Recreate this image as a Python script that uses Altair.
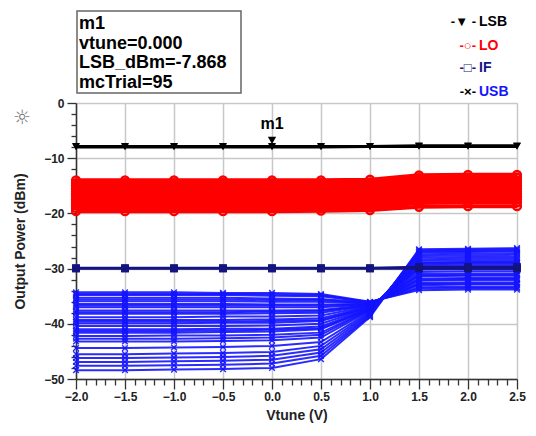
import altair as alt
import pandas as pd

# ---------------- data ----------------
vtune = [-2.0, -1.5, -1.0, -0.5, 0.0, 0.5, 1.0, 1.5, 2.0, 2.5]

lsb_traces = [
    [-7.87, -7.87, -7.87, -7.87, -7.868, -7.87, -7.87, -7.87, -7.87, -7.87],
    [-7.95, -7.95, -7.95, -7.95, -7.95, -7.95, -7.9, -7.75, -7.75, -7.75],
]

lo_traces = [
    [-14.0, -14.0, -14.0, -14.0, -14.0, -14.0, -13.9, -13.1, -13.0, -13.0],
    [-14.5, -14.5, -14.5, -14.5, -14.5, -14.5, -14.4, -13.6, -13.5, -13.5],
    [-15.0, -15.0, -15.0, -15.0, -15.0, -15.0, -14.9, -14.1, -14.0, -14.0],
    [-15.5, -15.5, -15.5, -15.5, -15.5, -15.5, -15.4, -14.6, -14.5, -14.5],
    [-16.0, -16.0, -16.0, -16.0, -16.0, -16.0, -15.9, -15.1, -15.0, -15.0],
    [-16.5, -16.5, -16.5, -16.5, -16.5, -16.5, -16.4, -15.6, -15.5, -15.5],
    [-17.0, -17.0, -17.0, -17.0, -17.0, -17.0, -16.9, -16.1, -16.0, -16.0],
    [-17.5, -17.5, -17.5, -17.5, -17.5, -17.5, -17.4, -16.6, -16.5, -16.5],
    [-18.0, -18.0, -18.0, -18.0, -18.0, -18.0, -17.9, -17.1, -17.0, -17.0],
    [-18.5, -18.5, -18.5, -18.5, -18.5, -18.5, -18.4, -17.6, -17.5, -17.5],
    [-19.0, -19.0, -19.0, -19.0, -19.0, -19.0, -18.9, -18.1, -18.0, -18.0],
    [-19.6, -19.6, -19.6, -19.6, -19.6, -19.5, -19.4, -18.8, -18.7, -18.7],
]

if_traces = [
    [-30.0, -30.0, -30.0, -30.0, -30.0, -30.0, -30.0, -30.0, -30.0, -30.0],
    [-29.9, -29.9, -29.9, -29.9, -29.9, -29.9, -29.9, -29.7, -29.7, -29.7],
]

usb_traces = [
    [-34.3, -34.3, -34.3, -34.4, -34.4, -34.6, -36.0, -33.9, -33.8, -33.8],
    [-34.6, -34.6, -34.6, -34.6, -34.7, -34.8, -36.1, -33.6, -33.5, -33.5],
    [-34.8, -34.8, -34.8, -34.8, -34.9, -35.0, -36.1, -33.4, -33.3, -33.3],
    [-35.3, -35.3, -35.3, -35.3, -35.4, -35.5, -36.2, -33.0, -32.9, -32.9],
    [-35.6, -35.6, -35.6, -35.6, -35.7, -35.7, -36.3, -32.8, -32.7, -32.7],
    [-35.9, -35.9, -35.9, -35.9, -36.0, -36.0, -36.3, -32.6, -32.5, -32.5],
    [-36.4, -36.4, -36.4, -36.4, -36.5, -36.5, -36.4, -32.2, -32.1, -32.1],
    [-36.7, -36.7, -36.7, -36.7, -36.7, -36.7, -36.5, -32.0, -31.9, -31.9],
    [-37.0, -37.0, -37.0, -37.0, -37.0, -37.0, -36.5, -31.8, -31.7, -31.7],
    [-37.6, -37.6, -37.6, -37.6, -37.6, -37.5, -36.6, -31.4, -31.3, -31.3],
    [-37.9, -37.9, -37.9, -37.9, -37.8, -37.7, -36.7, -31.2, -31.1, -31.1],
    [-38.2, -38.2, -38.2, -38.2, -38.1, -38.0, -36.7, -31.0, -30.9, -30.9],
    [-38.8, -38.8, -38.8, -38.7, -38.7, -38.5, -36.8, -30.6, -30.5, -30.5],
    [-39.3, -39.3, -39.3, -39.3, -39.2, -39.0, -36.9, -30.2, -30.1, -30.1],
    [-39.6, -39.6, -39.6, -39.6, -39.5, -39.3, -37.0, -30.0, -29.9, -29.9],
    [-39.9, -39.9, -39.9, -39.8, -39.8, -39.5, -37.0, -29.8, -29.7, -29.7],
    [-40.4, -40.4, -40.4, -40.4, -40.3, -40.0, -37.1, -29.5, -29.4, -29.4],
    [-41.0, -41.0, -41.0, -40.9, -40.9, -40.5, -37.2, -29.2, -29.1, -29.1],
    [-41.3, -41.3, -41.3, -41.2, -41.1, -40.8, -37.3, -29.0, -28.9, -28.9],
    [-41.6, -41.6, -41.6, -41.5, -41.4, -41.0, -37.3, -28.9, -28.8, -28.8],
    [-42.2, -42.2, -42.1, -42.1, -42.0, -41.6, -37.4, -28.6, -28.5, -28.5],
    [-42.7, -42.7, -42.7, -42.6, -42.5, -42.0, -37.5, -28.3, -28.2, -28.2],
    [-43.2, -43.2, -43.2, -43.1, -43.0, -42.5, -37.6, -28.0, -27.9, -27.9],
    [-44.4, -44.4, -44.3, -44.2, -44.0, -43.3, -37.8, -27.7, -27.6, -27.5],
    [-45.5, -45.5, -45.4, -45.3, -45.1, -44.0, -38.0, -27.4, -27.3, -27.2],
    [-46.2, -46.2, -46.1, -46.0, -45.8, -44.6, -38.2, -27.1, -27.0, -26.9],
    [-46.9, -46.9, -46.8, -46.7, -46.5, -45.2, -38.4, -26.9, -26.8, -26.7],
    [-47.6, -47.6, -47.5, -47.4, -47.2, -45.8, -38.6, -26.7, -26.6, -26.5],
    [-48.4, -48.4, -48.3, -48.2, -48.0, -46.4, -38.8, -26.5, -26.4, -26.3],
]

marker_x = [0.0]
marker_y = [-7.868]
marker_label = ["m1"]
marker_box_lines = ["m1", "vtune=0.000", "LSB_dBm=-7.868", "mcTrial=95"]

legend_symbols = ["-\u25bc - ", "-\u25cb-", "-\u25a1-", "-\u00d7-"]
legend_names = ["LSB", "LO", "IF", "USB"]

# axis tick positions: every 0.1 V (labels every 0.5 V), every 2 dB (labels every 10 dB)
x_tick_values = [round(-2.0 + 0.1 * i, 1) for i in range(46)]
y_tick_values = list(range(-50, 1, 2))

# ---------------- style ----------------
FONT = "Liberation Sans"
C_LSB = "#000000"
C_LO = "#ff0000"
C_IF = "#141480"
C_USB = "#1414ff"

rows = []
for name, traces in [("LSB", lsb_traces), ("LO", lo_traces), ("IF", if_traces), ("USB", usb_traces)]:
    for k, tr in enumerate(traces):
        for xv, yv in zip(vtune, tr):
            rows.append({"series": name, "trace": f"{name}{k}", "vtune": xv, "power": yv})
df = pd.DataFrame(rows)

xscale = alt.Scale(domain=[-2.0, 2.5], nice=False, zero=False, padding=0)
yscale = alt.Scale(domain=[-50, 0], nice=False, zero=False, padding=0)

X_MAJOR = "abs(datum.value * 2 - round(datum.value * 2)) < 0.01"
Y_MAJOR = "abs(datum.value % 10) < 0.01"

main_x_axis = alt.Axis(
    values=x_tick_values, title="Vtune (V)", grid=True,
    labelExpr=f"{X_MAJOR} ? format(datum.value, '.1f') : ''",
    gridColor="#c8c8c8", gridWidth=1.5,
    gridOpacity={"condition": {"test": X_MAJOR, "value": 1}, "value": 0},
    domainColor="#333333", domainWidth=1.5,
    tickColor="#333333", tickSize=10, tickWidth=1.3,
    tickDash={"condition": {"test": X_MAJOR, "value": [10, 0]}, "value": [6, 20]},
    labelFont=FONT, labelFontSize=12, labelFontWeight="bold", labelColor="#222222",
    labelPadding=2, labelOverlap=False, labelFlush=False, titleFont=FONT,
    titleFontSize=14, titleFontWeight="bold", titleColor="#222222", titlePadding=6,
)
main_y_axis = alt.Axis(
    values=y_tick_values, title="Output Power (dBm)", grid=True,
    labelExpr=f"{Y_MAJOR} ? format(datum.value, 'd') : ''",
    gridColor="#c8c8c8", gridWidth=1.5,
    gridOpacity={"condition": {"test": Y_MAJOR, "value": 1}, "value": 0},
    domainColor="#333333", domainWidth=1.5,
    tickColor="#333333", tickSize=9, tickWidth=1.3,
    tickDash={"condition": {"test": Y_MAJOR, "value": [9, 0]}, "value": [5, 20]},
    labelFont=FONT, labelFontSize=12, labelFontWeight="bold", labelColor="#222222",
    labelPadding=3, labelOverlap=False, labelFlush=False, titleFont=FONT,
    titleFontSize=14, titleFontWeight="bold", titleColor="#222222", titlePadding=16,
)

base = alt.Chart(df)


def enc(field_x="vtune", field_y="power", detail=True):
    d = dict(
        x=alt.X(f"{field_x}:Q", scale=xscale, axis=main_x_axis),
        y=alt.Y(f"{field_y}:Q", scale=yscale, axis=main_y_axis),
    )
    if detail:
        d["detail"] = "trace:N"
    return d


X_SHAPE = "M-1,-1L1,1M-1,1L1,-1"

usb_line = base.transform_filter(alt.datum.series == "USB").mark_line(
    color=C_USB, strokeWidth=2, opacity=0.9).encode(**enc())
usb_pts = base.transform_filter(alt.datum.series == "USB").mark_point(
    shape=X_SHAPE, color=C_USB, size=32, strokeWidth=1.4, filled=False, opacity=0.9).encode(**enc())

lo_line = base.transform_filter(alt.datum.series == "LO").mark_line(
    color=C_LO, strokeWidth=4).encode(**enc())
lo_pts = base.transform_filter(alt.datum.series == "LO").mark_point(
    shape="circle", color=C_LO, size=60, strokeWidth=2.5, filled=False, opacity=1).encode(**enc())

if_line = base.transform_filter(alt.datum.series == "IF").mark_line(
    color=C_IF, strokeWidth=2.5).encode(**enc())
if_pts = base.transform_filter(alt.datum.series == "IF").mark_point(
    shape="square", color=C_IF, size=60, filled=True, opacity=1).encode(**enc())

lsb_line = base.transform_filter(alt.datum.series == "LSB").mark_line(
    color=C_LSB, strokeWidth=3).encode(**enc())
lsb_pts = base.transform_filter(alt.datum.series == "LSB").mark_point(
    shape="triangle-down", color=C_LSB, size=60, filled=True, opacity=1).encode(**enc())

# marker m1
mdf = pd.DataFrame({"vtune": marker_x, "power": marker_y, "label": marker_label})
m_base = alt.Chart(mdf)
m_tri = m_base.mark_point(shape="triangle-down", color="#000000", filled=True, size=70,
                          opacity=1, yOffset=-6).encode(**enc(detail=False))
m_txt = m_base.mark_text(font=FONT, fontSize=16, fontWeight="bold", color="#000000",
                         dy=-22).encode(text="label:N", **enc(detail=False))

dummy = alt.Chart(pd.DataFrame({"a": [0]}))
box = dummy.mark_rect(fill="white", stroke="#666666", strokeWidth=1.5).encode(
    x=alt.value(1), x2=alt.value(165), y=alt.value(-92), y2=alt.value(-10))
box_txt = dummy.mark_text(text=marker_box_lines, align="left", baseline="middle",
                          font=FONT, fontSize=18, fontWeight="bold", color="#000000",
                          lineHeight=19.5).encode(x=alt.value(3), y=alt.value(-79))

sun = dummy.mark_text(text="\u263c", font="DejaVu Sans", fontSize=20, color="#777777",
                      baseline="middle", align="center").encode(x=alt.value(-54), y=alt.value(15))

legend_layers = []
sym_colors = [C_LSB, C_LO, C_IF, "#000000"]
name_colors = [C_LSB, C_LO, C_IF, C_USB]
leg_y = [-81, -57, -35, -11]
for i in range(4):
    legend_layers.append(dummy.mark_text(
        text=legend_symbols[i], align="right", baseline="middle", font=FONT, fontSize=13,
        fontWeight="bold", color=sym_colors[i]).encode(x=alt.value(400), y=alt.value(leg_y[i])))
    legend_layers.append(dummy.mark_text(
        text=legend_names[i], align="left", baseline="middle", font=FONT, fontSize=14,
        fontWeight="bold", color=name_colors[i]).encode(x=alt.value(403), y=alt.value(leg_y[i])))

chart = alt.layer(
    usb_line, usb_pts, lo_line, lo_pts, if_line, if_pts, lsb_line, lsb_pts,
    m_tri, m_txt, box, box_txt, sun, *legend_layers,
).properties(
    width=441, height=276,
    autosize=alt.AutoSizeParams(type="none"),
    padding={"left": 68, "top": 95, "right": 11, "bottom": 49},
).configure_view(stroke="#999999", strokeWidth=1.5).configure(background="white")

chart.save("out.html", embed_options={"renderer": "svg", "actions": False})
